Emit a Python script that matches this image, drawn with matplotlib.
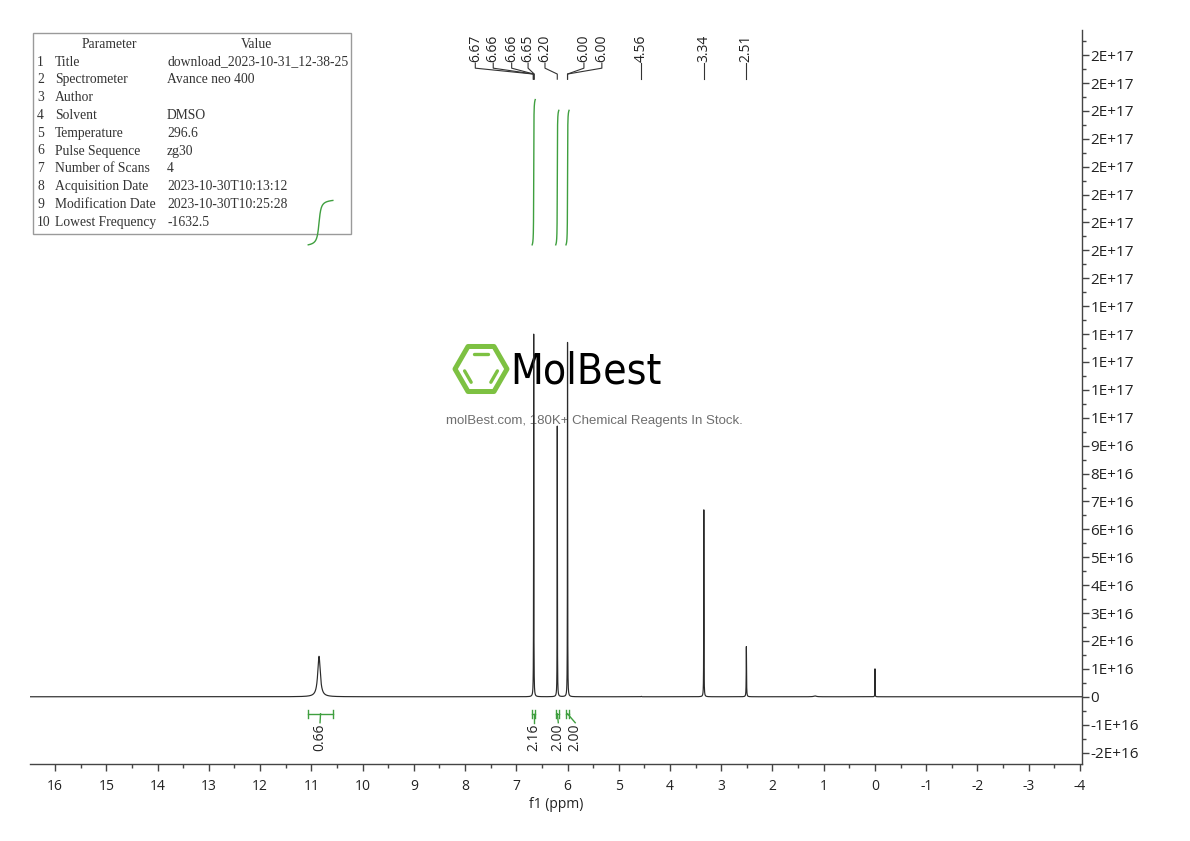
import numpy as np
import matplotlib
matplotlib.use("Agg")
import matplotlib.pyplot as plt
from matplotlib import transforms as mtransforms
from matplotlib.ticker import MultipleLocator, FuncFormatter
from matplotlib.patches import Rectangle, Polygon
from matplotlib.lines import Line2D
from matplotlib import font_manager

# ---------------- data ----------------
peak_ppm    = [10.85, 6.66, 6.20, 6.00, 4.56, 3.34, 2.51, 1.17, 0.00]
peak_height = [1.45e16, 1.30e17, 9.7e16, 1.27e17, 1.5e14, 6.7e16, 1.8e16, 3.0e14, 1.0e16]
peak_fwhm   = [0.060, 0.005, 0.005, 0.005, 0.010, 0.005, 0.007, 0.060, 0.004]

peak_labels    = ["6.67", "6.66", "6.66", "6.65", "6.20", "6.00", "6.00", "4.56", "3.34", "2.51"]
peak_label_ppm = [7.80, 7.45, 7.09, 6.77, 6.44, 5.68, 5.33, 4.56, 3.34, 2.51]

integral_start     = [11.06, 6.69, 6.23, 6.03]
integral_end       = [10.58, 6.63, 6.17, 5.97]
integral_values    = [0.66, 2.16, 2.00, 2.00]
integral_label_ppm = [10.83, 6.66, 6.18, 5.85]

param_names = ["Title", "Spectrometer", "Author", "Solvent", "Temperature",
               "Pulse Sequence", "Number of Scans", "Acquisition Date",
               "Modification Date", "Lowest Frequency"]
param_values = ["download_2023-10-31_12-38-25", "Avance neo 400", "", "DMSO",
                "296.6", "zg30", "4", "2023-10-30T10:13:12",
                "2023-10-30T10:25:28", "-1632.5"]

x_range = (16.49, -4.04)
y_range = (-2.41e16, 2.39e17)

# ---------------- figure ----------------
plt.rcParams["axes.unicode_minus"] = False
W, H = 1190, 841
fig = plt.figure(figsize=(W / 100, H / 100), dpi=100)
fig.patch.set_facecolor("white")

def fx(x):
    return x / W

def fy(y):
    return 1 - y / H

ax = fig.add_axes([fx(30), fy(764), (1082 - 30) / W, (764 - 30) / H])
ax.set_facecolor("none")

ppm = np.linspace(x_range[0], x_range[1], 300001)
spec = np.zeros_like(ppm)
for p, h, w in zip(peak_ppm, peak_height, peak_fwhm):
    hw = w / 2
    spec += h * hw ** 2 / ((ppm - p) ** 2 + hw ** 2)

ax.plot(ppm, spec, color="#2a2a2a", lw=0.85, zorder=3)

green = "#3f9f3f"
# integral curves
int_base = 1.62e17
int_scale = 2.41e16
for a, b, v in zip(integral_start, integral_end, integral_values):
    m = (ppm <= a) & (ppm >= b)
    c = np.cumsum(spec[m])
    c = (c - c[0]) / (c[-1] - c[0])
    ax.plot(ppm[m], int_base + v * int_scale * c, color=green, lw=1.0, zorder=3)

# integral brackets and labels
y_br = -0.61e16
cap = 0.14e16
for a, b, v, lp in zip(integral_start, integral_end, integral_values, integral_label_ppm):
    ax.plot([a, b], [y_br, y_br], color=green, lw=1.0)
    ax.plot([a, a], [y_br - cap, y_br + cap], color=green, lw=1.0)
    ax.plot([b, b], [y_br - cap, y_br + cap], color=green, lw=1.0)
    mid = (a + b) / 2
    ax.plot([mid, lp], [y_br, -0.93e16], color=green, lw=1.0)
    ax.text(lp, -0.95e16, f"{v:.2f}", rotation=90, ha="center", va="top",
            fontsize=10, family="Open Sans", color="#222222")

# peak labels at top
bt = mtransforms.blended_transform_factory(ax.transData, ax.transAxes)
for lab, lp in zip(peak_labels, peak_label_ppm):
    target = float(lab)
    ax.plot([lp, lp, target, target], [0.955, 0.948, 0.940, 0.933],
            color="#333333", lw=0.8, transform=bt, clip_on=False)
    ax.text(lp, 0.957, lab, rotation=90, ha="center", va="bottom",
            fontsize=10, family="Open Sans", color="#222222", transform=bt)

# axes styling
ax.set_xlim(*x_range)
ax.set_ylim(*y_range)
for s in ("left", "top"):
    ax.spines[s].set_visible(False)
for s in ("bottom", "right"):
    ax.spines[s].set_color("#444444")
    ax.spines[s].set_linewidth(1.0)
ax.yaxis.tick_right()
ax.xaxis.set_major_locator(MultipleLocator(1))
ax.xaxis.set_minor_locator(MultipleLocator(0.5))
ax.yaxis.set_major_locator(MultipleLocator(1e16))
ax.yaxis.set_minor_locator(MultipleLocator(5e15))
ax.xaxis.set_major_formatter(FuncFormatter(lambda v, p: f"{v:.0f}"))
ax.yaxis.set_major_formatter(FuncFormatter(lambda v, p: "0" if abs(v) < 1 else f"{v:.0E}"))
ax.tick_params(axis="x", which="major", direction="out", length=5, width=1,
               color="#444444", labelsize=10, pad=6)
ax.tick_params(axis="x", which="minor", direction="out", length=3, width=1, color="#444444")
ax.tick_params(axis="y", which="major", direction="out", length=5, width=1,
               color="#444444", labelsize=11, pad=1)
ax.tick_params(axis="y", which="minor", direction="out", length=3, width=1, color="#444444")
for t in ax.get_xticklabels() + ax.get_yticklabels():
    t.set_family("Open Sans")
    t.set_color("#222222")
ax.set_xlabel("f1 (ppm)", fontsize=10, family="Open Sans", color="#222222", labelpad=2)

# ---------------- parameter table ----------------
tab_font = "Liberation Serif"
tab_size = 9.8
ax.add_artist(Rectangle((fx(33), fy(234)), fx(351) - fx(33), fy(33) - fy(234),
                        transform=fig.transFigure, fill=False, edgecolor="#9a9a9a",
                        lw=1.0, zorder=1, clip_on=False))
ax.text(fx(109), fy(44), "Parameter", transform=fig.transFigure, ha="center", va="center",
        fontsize=tab_size, family=tab_font, color="#333333")
ax.text(fx(256), fy(44), "Value", transform=fig.transFigure, ha="center", va="center",
        fontsize=tab_size, family=tab_font, color="#333333")
for i, (n, v) in enumerate(zip(param_names, param_values)):
    yy = 62 + i * 17.8
    ax.text(fx(37), fy(yy), str(i + 1), transform=fig.transFigure, ha="left", va="center",
            fontsize=tab_size, family=tab_font, color="#333333")
    ax.text(fx(55), fy(yy), n, transform=fig.transFigure, ha="left", va="center",
            fontsize=tab_size, family=tab_font, color="#333333")
    ax.text(fx(167), fy(yy), v, transform=fig.transFigure, ha="left", va="center",
            fontsize=tab_size, family=tab_font, color="#333333")

# ---------------- watermark ----------------
logo_green = "#7dc142"
cx, cy, R = 481, 369, 26
ang = np.deg2rad(np.arange(0, 360, 60))
hexv = [(fx(cx + R * np.cos(t)), fy(cy - R * np.sin(t))) for t in ang]
ax.add_artist(Polygon(hexv, closed=True, fill=False, edgecolor=logo_green, lw=3.6,
                      joinstyle="round", transform=fig.transFigure, zorder=1, clip_on=False))
Ri = 17.5
for a1, a2 in ((60, 120), (180, 240), (300, 360)):
    t1, t2 = np.deg2rad(a1), np.deg2rad(a2)
    p1 = np.array([cx + Ri * np.cos(t1), cy - Ri * np.sin(t1)])
    p2 = np.array([cx + Ri * np.cos(t2), cy - Ri * np.sin(t2)])
    mid = (p1 + p2) / 2
    q1 = mid + (p1 - mid) * 0.75
    q2 = mid + (p2 - mid) * 0.75
    ax.add_artist(Line2D([fx(q1[0]), fx(q2[0])], [fy(q1[1]), fy(q2[1])], color=logo_green,
                         lw=2.4, solid_capstyle="round", transform=fig.transFigure,
                         zorder=1, clip_on=False))

# choose a regular-weight condensed font for the logo word if one is installed
def _is_regular(f):
    return f.weight in (400, "normal", "regular", "book") and f.style == "normal"

cond = [f for f in font_manager.fontManager.ttflist
        if ("Condensed" in f.name or "Narrow" in f.name
            or f.stretch in ("condensed", "semi-condensed", "extra-condensed", "ultra-condensed"))
        and _is_regular(f) and "Bold" not in f.fname]
if cond:
    fp = font_manager.FontProperties(fname=cond[0].fname, size=30.5)
    ax.text(fx(510), fy(372), "MolBest", transform=fig.transFigure, ha="left", va="center",
            fontproperties=fp, color="black", zorder=1)
else:
    ax.text(fx(510), fy(372), "MolBest", transform=fig.transFigure, ha="left", va="center",
            fontsize=28, family="DejaVu Sans", color="black", zorder=1)
ax.text(fx(594), fy(421), "molBest.com, 180K+ Chemical Reagents In Stock.",
        transform=fig.transFigure, ha="center", va="center", fontsize=9.5,
        family="Liberation Sans", color="#6e6e6e", zorder=1)

fig.savefig("out.png", dpi=100, facecolor="white")
